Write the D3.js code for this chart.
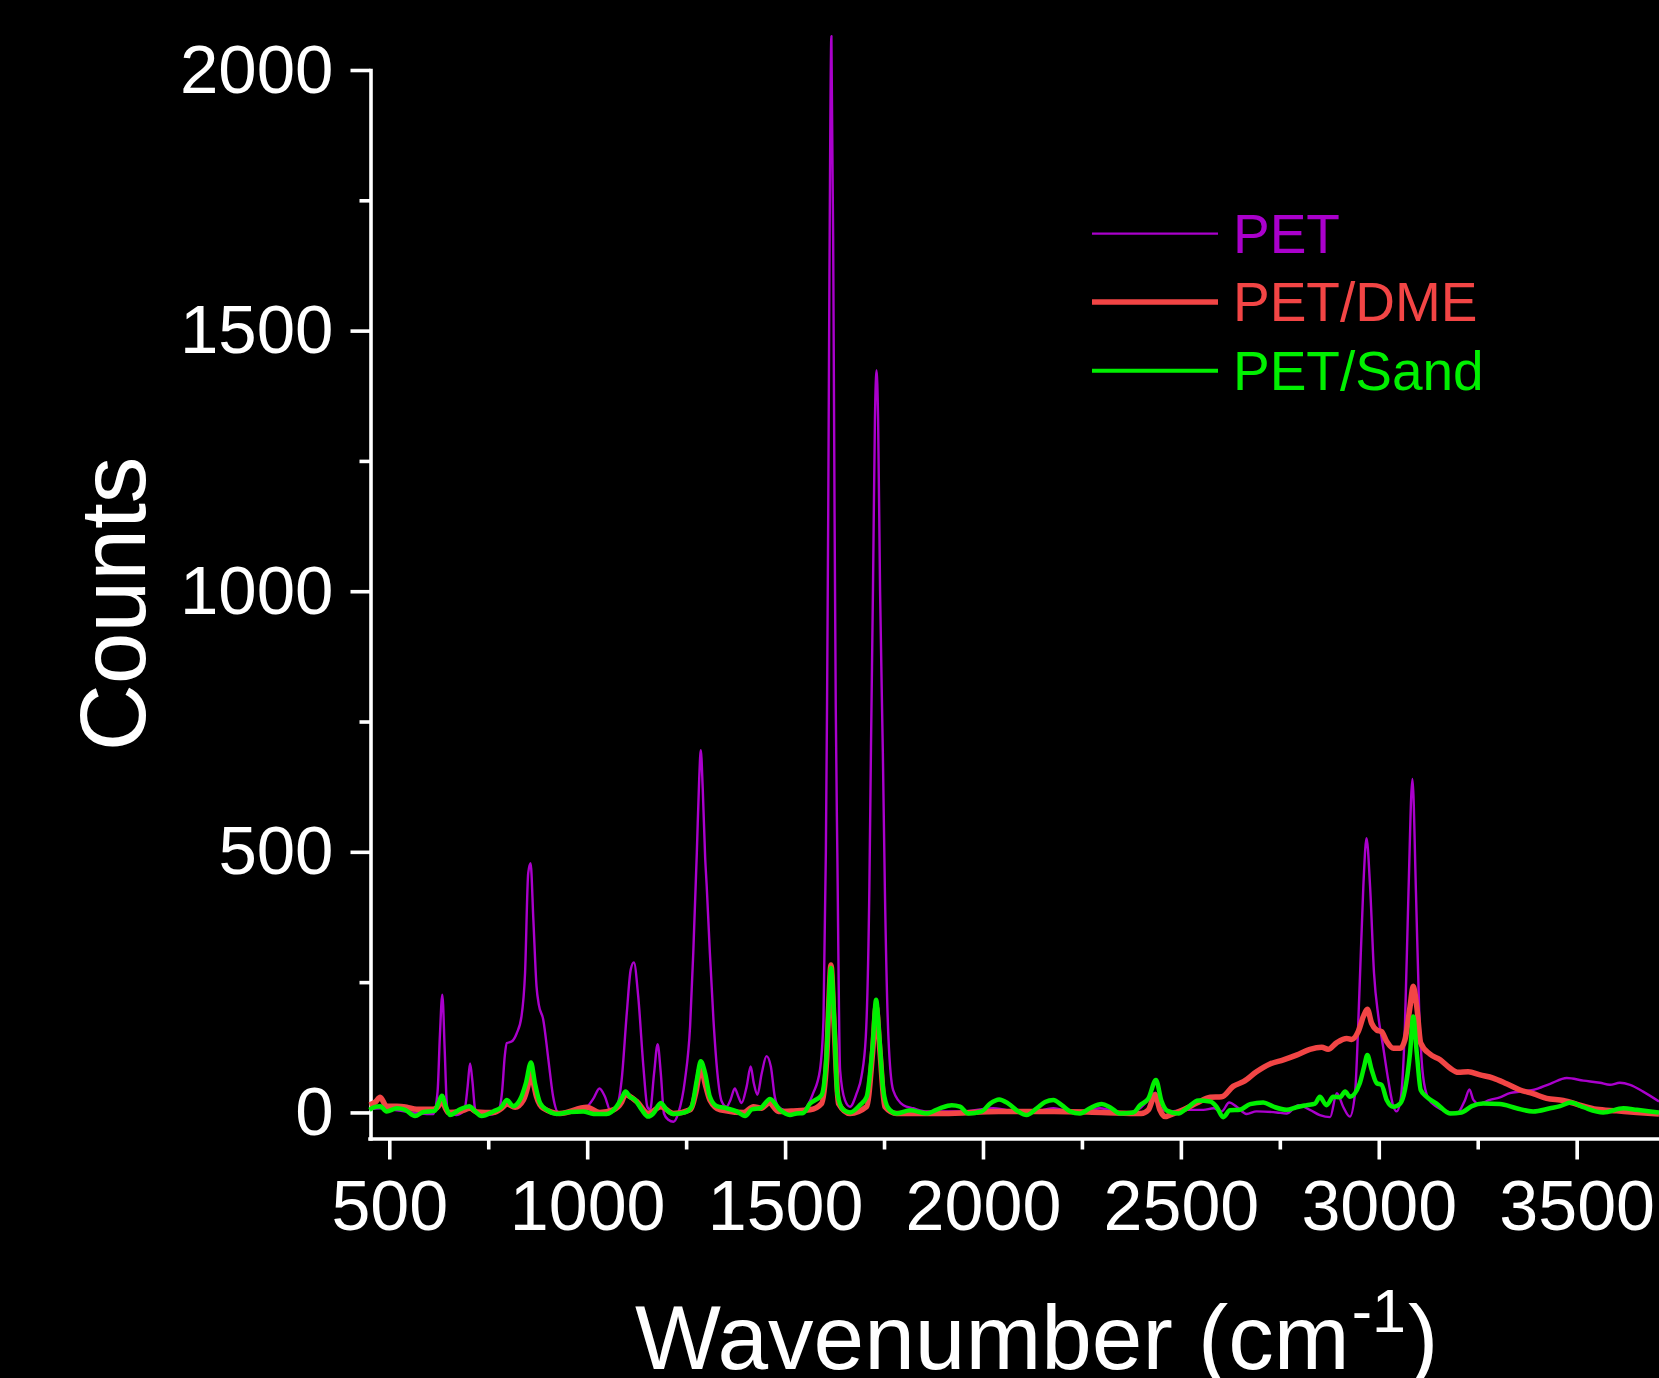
<!DOCTYPE html>
<html>
<head>
<meta charset="utf-8">
<script src="https://cdn.jsdelivr.net/npm/d3@7"></script>
<style>
  html, body { margin: 0; padding: 0; background: #000; }
  svg { display: block; }
  text { font-family: "Liberation Sans", Arial, Helvetica, sans-serif; }
</style>
</head>
<body>
<svg id="chart" width="1659" height="1378"></svg>
<script>
// ---------- DATA (wavenumber cm^-1, counts) ----------
const PET = [
  [450,6],[480,8],[520,4],[560,0],[600,-3],[611,-3],[622,40],[628,150],[634,226],[640,120],[645,20],[649,-2],
  [670,-5],[690,5],[698,50],[704,94],[710,60],[716,10],[719,0],[746,-5],[775,2],[785,40],[792,110],[797,133],
  [809,136],[822,152],[834,184],[843,267],[851,459],[857,478],[864,370],[872,242],[878,206],[889,178],[902,101],
  [914,30],[927,0],[960,2],[999,11],[1016,27],[1031,46],[1045,30],[1058,5],[1074,11],[1087,62],[1100,190],
  [1110,274],[1118,288],[1129,222],[1142,88],[1152,11],[1159,5],[1169,75],[1178,131],[1186,75],[1194,-2],
  [1205,-14],[1218,-18],[1230,-2],[1247,62],[1260,165],[1268,306],[1277,498],[1283,640],[1287,695],[1292,620],
  [1298,490],[1302,434],[1310,306],[1319,178],[1329,75],[1340,21],[1352,11],[1362,24],[1373,46],[1382,30],
  [1390,18],[1403,50],[1413,88],[1421,56],[1430,34],[1441,75],[1453,108],[1464,88],[1474,30],[1483,11],
  [1512,2],[1546,5],[1571,37],[1588,81],[1597,178],[1603,498],[1606,780],[1609,1150],[1612,1600],[1617,2065],
  [1622,1600],[1625,1150],[1628,780],[1632,498],[1639,81],[1651,24],[1664,11],[1681,37],[1693,69],[1704,146],
  [1713,434],[1717,700],[1722,1000],[1727,1330],[1731,1424],[1735,1330],[1740,1000],[1747,690],[1752,434],
  [1761,146],[1773,43],[1799,14],[1824,8],[1858,2],[1942,2],[2026,8],[2110,-2],[2178,8],[2237,-2],[2296,8],
  [2355,-2],[2397,8],[2422,28],[2436,38],[2447,8],[2472,2],[2515,5],[2557,5],[2582,8],[2603,2],[2622,19],
  [2641,11],[2666,-3],[2691,2],[2742,0],[2767,-2],[2797,14],[2826,5],[2851,-5],[2877,-9],[2894,37],[2910,11],
  [2927,-8],[2940,37],[2951,229],[2961,434],[2969,526],[2978,434],[2988,267],[2999,184],[3011,126],[3024,62],
  [3037,11],[3045,2],[3055,24],[3066,165],[3075,421],[3085,640],[3094,421],[3102,197],[3112,69],[3125,27],
  [3146,11],[3171,2],[3197,-2],[3218,24],[3229,44],[3239,24],[3252,17],[3281,24],[3306,29],[3331,37],
  [3357,40],[3390,43],[3433,55],[3475,66],[3517,61],[3559,57],[3584,53],[3609,57],[3635,53],[3668,40],[3708,21]
];

const PET_DME = [
  [450,14],[465,20],[477,29],[493,12],[519,12],[544,10],[569,6],[611,6],[624,12],[632,24],[642,8],[649,0],
  [679,2],[704,8],[721,1],[763,0],[784,8],[797,16],[818,10],[839,24],[850,50],[858,78],[866,50],[872,30],
  [889,8],[931,-2],[999,10],[1032,0],[1066,5],[1087,20],[1096,34],[1125,21],[1154,-2],[1186,11],[1218,-2],
  [1260,5],[1275,40],[1287,88],[1298,55],[1310,24],[1336,5],[1395,0],[1420,11],[1440,8],[1460,18],[1483,2],
  [1521,3],[1563,5],[1592,17],[1605,101],[1610,200],[1616,283],[1624,165],[1635,17],[1664,-2],[1706,11],
  [1721,114],[1730,203],[1740,114],[1752,11],[1782,-2],[1900,-2],[2040,2],[2180,2],[2300,0],[2400,-2],
  [2418,5],[2435,34],[2447,5],[2460,-8],[2472,-5],[2506,5],[2540,18],[2574,29],[2603,30],[2632,50],[2658,59],
  [2691,78],[2725,93],[2759,101],[2792,110],[2826,121],[2856,125],[2872,121],[2894,134],[2919,142],[2931,140],
  [2948,155],[2961,184],[2971,198],[2982,171],[2995,158],[3007,155],[3020,136],[3037,123],[3054,123],
  [3066,139],[3079,203],[3087,242],[3096,203],[3106,133],[3129,112],[3155,101],[3180,85],[3201,77],[3226,78],
  [3256,72],[3289,66],[3323,55],[3357,43],[3390,36],[3424,27],[3466,23],[3508,14],[3550,6],[3601,3],
  [3652,0],[3708,-3]
];

const PET_SAND = [
  [450,5],[462,10],[477,12],[493,2],[519,8],[540,5],[565,-7],[586,1],[615,3],[624,18],[633,32],[643,11],
  [653,-5],[679,6],[702,12],[717,2],[733,-7],[763,2],[784,11],[797,24],[813,12],[830,24],[845,56],[858,96],
  [868,56],[881,18],[898,5],[923,-3],[957,1],[990,2],[1016,-3],[1049,-3],[1074,11],[1087,27],[1097,40],
  [1108,30],[1121,24],[1138,5],[1154,-8],[1167,-2],[1186,18],[1201,5],[1218,-3],[1247,0],[1264,11],
  [1277,62],[1287,98],[1298,75],[1310,30],[1327,12],[1352,8],[1378,2],[1399,-7],[1416,6],[1437,8],[1462,26],
  [1487,5],[1512,-5],[1529,-2],[1546,-1],[1563,17],[1592,33],[1605,114],[1610,200],[1616,277],[1624,178],
  [1632,37],[1647,5],[1664,0],[1689,14],[1706,30],[1721,126],[1730,216],[1738,146],[1748,43],[1761,8],
  [1782,-2],[1816,4],[1858,-2],[1891,8],[1921,14],[1942,11],[1963,-2],[1997,2],[2018,17],[2041,25],
  [2064,17],[2089,2],[2110,-5],[2136,8],[2157,20],[2178,24],[2199,14],[2220,2],[2245,-2],[2270,8],[2300,16],
  [2321,10],[2346,-2],[2380,0],[2397,14],[2418,27],[2437,62],[2451,22],[2466,3],[2494,-2],[2515,8],
  [2544,23],[2574,21],[2590,11],[2607,-9],[2624,4],[2649,5],[2675,16],[2708,19],[2734,11],[2767,5],
  [2792,10],[2818,14],[2839,17],[2851,30],[2868,14],[2885,30],[2902,29],[2915,40],[2927,30],[2952,56],
  [2963,88],[2971,110],[2982,82],[2995,56],[3007,53],[3020,24],[3037,11],[3054,17],[3066,43],[3079,114],
  [3087,184],[3096,114],[3106,43],[3121,30],[3146,17],[3180,-2],[3209,0],[3235,12],[3264,17],[3306,16],
  [3348,8],[3390,2],[3433,8],[3458,12],[3485,19],[3517,10],[3567,0],[3618,8],[3652,5],[3708,0]
];

const seriesNames = ["PET", "PET/DME", "PET/Sand"];
const xMajorTicks = [500, 1000, 1500, 2000, 2500, 3000, 3500];
const xMinorTicks = [750, 1250, 1750, 2250, 2750, 3250];
const yMajorTicks = [0, 500, 1000, 1500, 2000];
const yMinorTicks = [250, 750, 1250, 1750];
const xDomain = [450, 3708];
const yDomain = [-50, 2000];

// ---------- STYLE ----------
const colors = ["#AA00CC", "#F24545", "#00F000"];
const widths = [2.4, 5.5, 4.5];
const legendWidths = [2.3, 5.6, 4];

const svg = d3.select("#chart");
svg.append("rect").attr("width", 1659).attr("height", 1378).attr("fill", "#000");

const x = d3.scaleLinear().domain(xDomain).range([369.5, 1659]);
const y = d3.scaleLinear().domain(yDomain).range([1138.5, 70]);

const AXW = 3.6;

// Y axis
const yAxisG = svg.append("g").attr("transform", "translate(370.5,0)");
yAxisG.call(d3.axisLeft(y).tickValues(yMajorTicks).tickSize(20).tickSizeOuter(0).tickPadding(18)
  .tickFormat(d3.format("d")));
const yMinorG = svg.append("g").attr("transform", "translate(370.5,0)");
yMinorG.call(d3.axisLeft(y).tickValues(yMinorTicks).tickSize(11).tickSizeOuter(0).tickFormat(""));
yMinorG.select(".domain").remove();

// X axis
const xAxisG = svg.append("g").attr("transform", "translate(0,1138.5)");
xAxisG.call(d3.axisBottom(x).tickValues(xMajorTicks).tickSize(21).tickSizeOuter(0).tickPadding(20)
  .tickFormat(d3.format("d")));
const xMinorG = svg.append("g").attr("transform", "translate(0,1138.5)");
xMinorG.call(d3.axisBottom(x).tickValues(xMinorTicks).tickSize(11).tickSizeOuter(0).tickFormat(""));
xMinorG.select(".domain").remove();

svg.selectAll(".domain").attr("stroke", "#fff").attr("stroke-width", AXW).attr("stroke-linecap", "square");
svg.selectAll(".tick line").attr("stroke", "#fff").attr("stroke-width", AXW);

yAxisG.selectAll(".tick text")
  .attr("fill", "#fff").attr("font-size", 69).attr("dy", null).attr("dominant-baseline", null)
  .attr("x", -37).attr("y", 22)
  .style("font-family", '"Liberation Sans", Arial, sans-serif');
xAxisG.selectAll(".tick text")
  .attr("fill", "#fff").attr("font-size", 70).attr("dy", null)
  .attr("y", 91.5)
  .style("font-family", '"Liberation Sans", Arial, sans-serif');

// Lines
const line = d3.line().x(d => x(d[0])).y(d => y(d[1])).curve(d3.curveMonotoneX);
const allSeries = [PET, PET_DME, PET_SAND];
allSeries.forEach((s, i) => {
  svg.append("path")
    .datum(s)
    .attr("fill", "none")
    .attr("stroke", colors[i])
    .attr("stroke-width", widths[i])
    .attr("stroke-linejoin", "round")
    .attr("d", line);
});

// Axis titles
svg.append("text")
  .attr("transform", "translate(145,604) rotate(-90)")
  .attr("text-anchor", "middle")
  .attr("fill", "#fff")
  .attr("font-size", 93)
  .text("Counts");

const xt = svg.append("text")
  .attr("x", 635).attr("y", 1369)
  .attr("fill", "#fff")
  .attr("font-size", 91);
xt.append("tspan").text("Wavenumber (cm");
xt.append("tspan").attr("font-size", 61).attr("dy", -37).attr("dx", 2).text("-1");
xt.append("tspan").attr("dy", 37).attr("dx", 2).text(")");

// Legend
const legendLineY = [233.7, 302, 370.7];
seriesNames.forEach((name, i) => {
  svg.append("line")
    .attr("x1", 1092).attr("x2", 1218)
    .attr("y1", legendLineY[i]).attr("y2", legendLineY[i])
    .attr("stroke", colors[i]).attr("stroke-width", legendWidths[i]);
  svg.append("text")
    .attr("x", 1233).attr("y", legendLineY[i] + 19)
    .attr("fill", colors[i])
    .attr("font-size", 55)
    .text(name);
});
</script>
</body>
</html>
